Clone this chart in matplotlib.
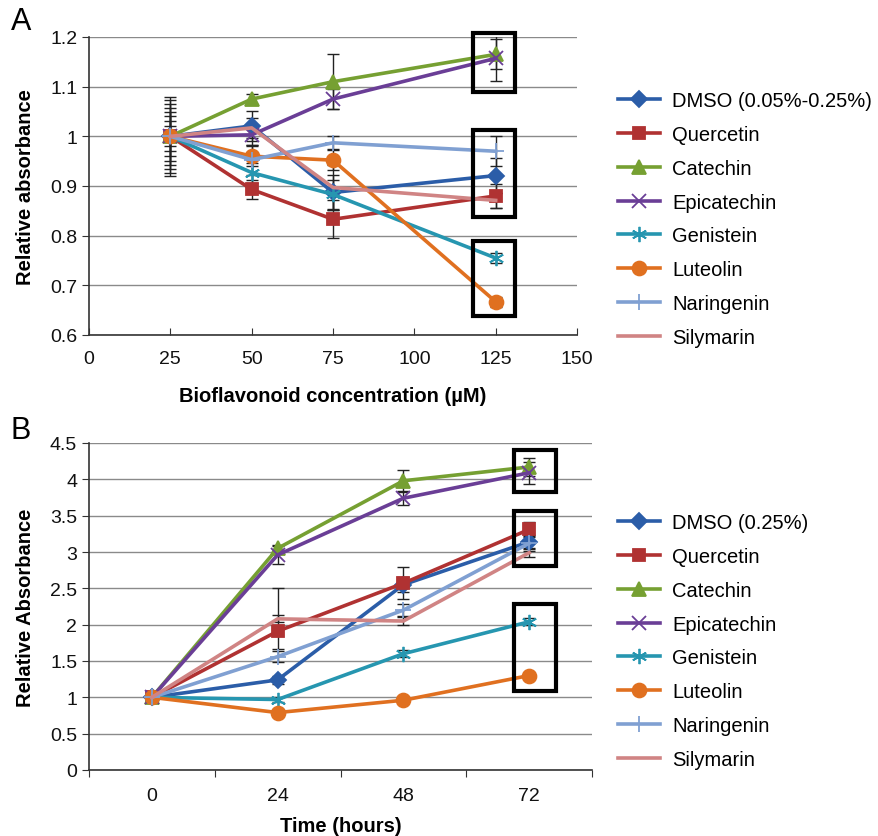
import matplotlib
matplotlib.use("Agg")
import matplotlib.pyplot as plt
from matplotlib.patches import FancyBboxPatch

plt.rcParams['font.family'] = ['Liberation Sans', 'DejaVu Sans']

names_a = ["DMSO (0.05%-0.25%)", "Quercetin", "Catechin", "Epicatechin",
           "Genistein", "Luteolin", "Naringenin", "Silymarin"]
names_b = ["DMSO (0.25%)"] + names_a[1:]

# panel A: relative absorbance vs concentration (uM)
conc = [25, 50, 75, 125]
dmso_a = [1.0, 1.021, 0.887, 0.921]
quer_a = [1.0, 0.893, 0.833, 0.880]
cate_a = [1.0, 1.075, 1.110, 1.165]
epic_a = [1.0, 1.003, 1.075, 1.157]
geni_a = [1.0, 0.927, 0.883, 0.755]
lute_a = [1.0, 0.960, 0.952, 0.667]
nari_a = [1.0, 0.953, 0.987, 0.970]
sily_a = [1.0, 1.017, 0.897, 0.871]

dmso_a_err = [0.080, 0.030, 0.036, 0.035]
quer_a_err = [0.057, 0.020, 0.038, 0.025]
cate_a_err = [0.073, 0.010, 0.055, 0.030]
epic_a_err = [0.040, 0.020, 0.020, 0.045]
geni_a_err = [0.030, 0.020, 0.030, 0.010]
lute_a_err = [0.020, 0.020, 0.020, 0.010]
nari_a_err = [0.065, 0.030, 0.013, 0.030]
sily_a_err = [0.050, 0.020, 0.046, 0.015]

# panel B: relative absorbance vs time (hours)
hours = ["0", "24", "48", "72"]
dmso_b = [1.0, 1.24, 2.55, 3.14]
quer_b = [1.0, 1.91, 2.57, 3.31]
cate_b = [1.0, 3.05, 3.98, 4.17]
epic_b = [1.0, 2.96, 3.74, 4.09]
geni_b = [1.0, 0.97, 1.60, 2.04]
lute_b = [1.0, 0.79, 0.96, 1.30]
nari_b = [1.0, 1.56, 2.20, 3.12]
sily_b = [1.0, 2.08, 2.05, 2.99]

dmso_b_err = [0, 0.05, 0.10, 0.10]
quer_b_err_lo = [0, 0.25, 0.22, 0.10]
quer_b_err_hi = [0, 0.60, 0.22, 0.10]
cate_b_err = [0, 0.05, 0.15, 0.12]
epic_b_err = [0, 0.12, 0.10, 0.15]
geni_b_err = [0, 0.03, 0.05, 0.05]
lute_b_err = [0, 0.03, 0.03, 0.03]
nari_b_err = [0, 0.08, 0.08, 0.10]
sily_b_err = [0, 0.05, 0.05, 0.06]

colors = ["#2B5DA8", "#B03232", "#76A032", "#6A3E96",
          "#2696B0", "#E07020", "#80A0D2", "#D08484"]
markers = ["D", "s", "^", "x", (6, 2, 0), "o", "+", None]
msizes = [8, 9, 10, 10, 11, 10, 11, 0]

fig = plt.figure(figsize=(8.79, 8.37), dpi=100)
ax_a = fig.add_axes([89 / 879, 1 - 336 / 837, 488 / 879, 298 / 837])
ax_b = fig.add_axes([89 / 879, 1 - 771 / 837, 503 / 879, 327 / 837])

vals_a = [dmso_a, quer_a, cate_a, epic_a, geni_a, lute_a, nari_a, sily_a]
errs_a = [dmso_a_err, quer_a_err, cate_a_err, epic_a_err,
          geni_a_err, lute_a_err, nari_a_err, sily_a_err]
vals_b = [dmso_b, quer_b, cate_b, epic_b, geni_b, lute_b, nari_b, sily_b]
errs_b = [dmso_b_err, [quer_b_err_lo, quer_b_err_hi], cate_b_err, epic_b_err,
          geni_b_err, lute_b_err, nari_b_err, sily_b_err]

xb = list(range(len(hours)))

for ax, xs, vals, errs, names in [(ax_a, conc, vals_a, errs_a, names_a),
                                  (ax_b, xb, vals_b, errs_b, names_b)]:
    for i in range(len(vals)):
        ax.errorbar(xs, vals[i], yerr=errs[i], fmt="none", ecolor="#222222",
                    elinewidth=1.0, capsize=4, capthick=1.0, zorder=2)
    for i in range(len(vals)):
        ax.plot(xs, vals[i], color=colors[i], lw=2.6, marker=markers[i],
                ms=msizes[i], mec=colors[i], mfc=colors[i], mew=1.3,
                label=names[i], zorder=3 + i * 0.1)

# panel A axes
ax_a.set_xlim(0, 150)
ax_a.set_ylim(0.6, 1.2)
ax_a.set_xticks(range(0, 151, 25))
ax_a.set_yticks([0.6, 0.7, 0.8, 0.9, 1.0, 1.1, 1.2])
ax_a.set_yticklabels(["0.6", "0.7", "0.8", "0.9", "1", "1.1", "1.2"])
ax_a.tick_params(axis="x", direction="in", length=5, pad=11)
ax_a.set_xlabel("Bioflavonoid concentration (\u00b5M)", fontsize=14.5,
                fontweight="bold")
ax_a.xaxis.set_label_coords(0.5, -0.17)
ax_a.set_ylabel("Relative absorbance", fontsize=14.5, fontweight="bold")
ax_a.yaxis.set_label_coords(-0.111, 0.5)

# panel B axes
ax_b.set_xlim(-0.5, 3.5)
ax_b.set_ylim(0, 4.5)
ax_b.set_xticks([-0.5, 0.5, 1.5, 2.5, 3.5])
ax_b.set_xticklabels([])
ax_b.set_xticks(xb, hours, minor=True)
ax_b.tick_params(axis="x", which="minor", length=0, pad=12)
ax_b.tick_params(axis="x", which="major", direction="out", length=5)
ax_b.set_yticks([0, 0.5, 1, 1.5, 2, 2.5, 3, 3.5, 4, 4.5])
ax_b.set_yticklabels(["0", "0.5", "1", "1.5", "2", "2.5", "3", "3.5", "4", "4.5"])
ax_b.set_xlabel("Time (hours)", fontsize=14.5, fontweight="bold")
ax_b.xaxis.set_label_coords(0.5, -0.142)
ax_b.set_ylabel("Relative Absorbance", fontsize=14.5, fontweight="bold")
ax_b.yaxis.set_label_coords(-0.107, 0.5)

for ax in (ax_a, ax_b):
    ax.grid(axis="y", color="#8a8a8a", lw=1.0)
    ax.set_axisbelow(True)
    for s in ("top", "right"):
        ax.spines[s].set_visible(False)
    for s in ("left", "bottom"):
        ax.spines[s].set_color("#333333")
        ax.spines[s].set_linewidth(1.2)
    ax.tick_params(axis="y", direction="out", length=5)
    ax.tick_params(which="both", labelsize=14, colors="#333333",
                   labelcolor="#111111")

# highlight boxes around the end points
boxes_a = [(118.0, 1.090, 12.9, 0.119), (118.0, 0.838, 12.9, 0.175),
           (118.0, 0.639, 12.9, 0.151)]
boxes_b = [(2.88, 3.83, 0.33, 0.58), (2.88, 2.81, 0.33, 0.76),
           (2.88, 1.09, 0.33, 1.19)]
for ax, boxes in [(ax_a, boxes_a), (ax_b, boxes_b)]:
    for x0, y0, w, h in boxes:
        ax.add_patch(FancyBboxPatch((x0, y0), w, h, boxstyle="square,pad=0",
                                    fill=False, ec="black", lw=3.0,
                                    zorder=10, clip_on=False))

ax_a.legend(loc="center left", bbox_to_anchor=(618 / 879, 1 - 220 / 837),
            bbox_transform=fig.transFigure, frameon=False, fontsize=14.5,
            handlelength=2.1, handletextpad=0.6, labelspacing=0.74,
            borderpad=0, borderaxespad=0)
ax_b.legend(loc="center left", bbox_to_anchor=(618 / 879, 1 - 642 / 837),
            bbox_transform=fig.transFigure, frameon=False, fontsize=14.5,
            handlelength=2.1, handletextpad=0.6, labelspacing=0.74,
            borderpad=0, borderaxespad=0)

fig.text(11 / 879, 1 - 22 / 837, "A", fontsize=22, va="center", ha="left")
fig.text(11 / 879, 1 - 431 / 837, "B", fontsize=22, va="center", ha="left")

fig.savefig("out.png", dpi=100)
